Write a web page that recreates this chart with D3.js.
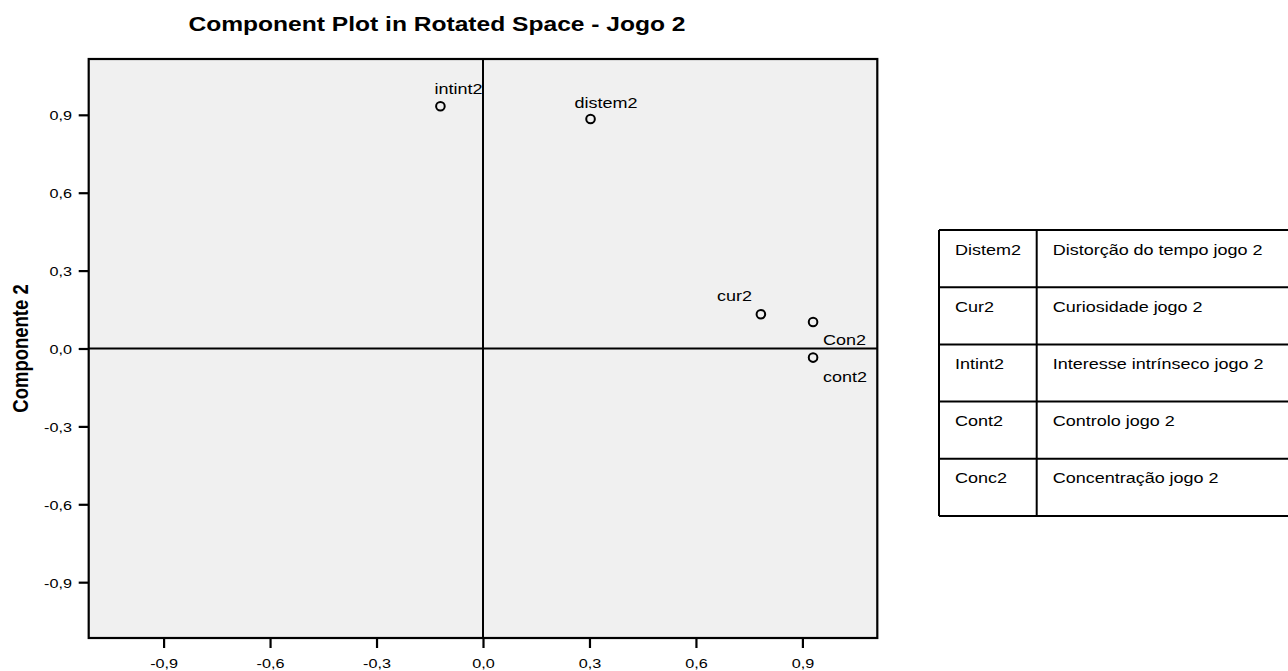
<!DOCTYPE html>
<html>
<head>
<meta charset="utf-8">
<script src="https://cdn.jsdelivr.net/npm/d3@7"></script>
<style>
  html, body { margin: 0; padding: 0; background: #ffffff; }
  svg { display: block; font-family: "Liberation Sans", Arial, Helvetica, sans-serif; }
</style>
</head>
<body>
<svg id="chart" width="1288" height="671"></svg>
<script>
// Component loadings (rotated solution)
const variables = ["intint2", "distem2", "cur2", "Con2", "cont2"];
const component1 = [-0.120, 0.303, 0.783, 0.930, 0.930];
const component2 = [0.933, 0.884, 0.132, 0.102, -0.035];

// Axis ticks
const tickValues = [-0.9, -0.6, -0.3, 0.0, 0.3, 0.6, 0.9];

// Key table
const tableCodes = ["Distem2", "Cur2", "Intint2", "Cont2", "Conc2"];
const tableNames = ["Distorção do tempo jogo 2", "Curiosidade jogo 2", "Interesse intrínseco jogo 2", "Controlo jogo 2", "Concentração jogo 2"];

// Label placement around each marker: [dx, dy, anchor]
const labelPlacement = [[-6, -12, "start"], [-16, -11, "start"], [-9, -13, "end"], [10, 23, "start"], [10, 24, "start"]];

const SX = 1.2; // horizontal glyph stretch used for all text

const svg = d3.select("#chart");
const plot = { left: 88.7, right: 877.3, top: 59, bottom: 638 };

const x = d3.scaleLinear().domain([-1.111, 1.111]).range([plot.left, plot.right]);
const y = d3.scaleLinear().domain([-1.115, 1.115]).range([plot.bottom, plot.top]);

const locale = d3.formatLocale({ decimal: ",", thousands: ".", grouping: [3], currency: ["", "€"], minus: "-" });
const fmt = locale.format(".1f");

function stretchText(sel) {
  sel.each(function () {
    const t = d3.select(this);
    const tx = +t.attr("x") || 0;
    const ty = +t.attr("y") || 0;
    t.attr("x", 0).attr("y", 0)
     .attr("transform", `translate(${tx},${ty}) scale(${SX},1)`);
  });
}

// Plot background
svg.append("rect")
  .attr("x", plot.left).attr("y", plot.top)
  .attr("width", plot.right - plot.left).attr("height", plot.bottom - plot.top)
  .attr("fill", "#f0f0f0");

// Reference lines through the origin
svg.append("line")
  .attr("x1", x(0)).attr("x2", x(0)).attr("y1", plot.top).attr("y2", plot.bottom)
  .attr("stroke", "#000").attr("stroke-width", 2);
svg.append("line")
  .attr("x1", plot.left).attr("x2", plot.right).attr("y1", y(0)).attr("y2", y(0))
  .attr("stroke", "#000").attr("stroke-width", 2);

// Frame
svg.append("rect")
  .attr("x", plot.left).attr("y", plot.top)
  .attr("width", plot.right - plot.left).attr("height", plot.bottom - plot.top)
  .attr("fill", "none").attr("stroke", "#000").attr("stroke-width", 2.2);

// Axes
const xAxis = d3.axisBottom(x).tickValues(tickValues).tickFormat(fmt).tickSize(10).tickPadding(13).tickSizeOuter(0);
const gx = svg.append("g").attr("transform", `translate(0,${plot.bottom})`).call(xAxis);
gx.select(".domain").remove();
gx.selectAll(".tick line").attr("stroke", "#000").attr("stroke-width", 2.2);
gx.selectAll(".tick text").attr("font-size", 13.5).attr("fill", "#000").attr("font-family", null)
  .attr("dy", null).attr("y", 29.5);
stretchText(gx.selectAll(".tick text"));

const yAxis = d3.axisLeft(y).tickValues(tickValues).tickFormat(fmt).tickSize(10).tickPadding(7).tickSizeOuter(0);
const gy = svg.append("g").attr("transform", `translate(${plot.left},0)`).call(yAxis);
gy.select(".domain").remove();
gy.selectAll(".tick line").attr("stroke", "#000").attr("stroke-width", 2.2);
gy.selectAll(".tick text").attr("font-size", 13.5).attr("fill", "#000").attr("font-family", null)
  .attr("dy", null).attr("y", 5).attr("x", -16.7);
stretchText(gy.selectAll(".tick text"));

// Points
const pts = variables.map((v, i) => ({ name: v, c1: component1[i], c2: component2[i], place: labelPlacement[i] }));

svg.append("g").selectAll("circle").data(pts).join("circle")
  .attr("cx", d => x(d.c1)).attr("cy", d => y(d.c2))
  .attr("r", 4.3).attr("fill", "none").attr("stroke", "#000").attr("stroke-width", 2);

svg.append("g").selectAll("text").data(pts).join("text")
  .attr("x", d => x(d.c1) + d.place[0]).attr("y", d => y(d.c2) + d.place[1])
  .attr("text-anchor", d => d.place[2])
  .attr("font-size", 15).attr("fill", "#000")
  .text(d => d.name)
  .call(stretchText);

// Title
svg.append("text")
  .attr("x", 437).attr("y", 30.7).attr("text-anchor", "middle")
  .attr("font-size", 20.5).attr("font-weight", "bold").attr("fill", "#000")
  .text("Component Plot in Rotated Space - Jogo 2")
  .call(stretchText);

// Y axis title
svg.append("text")
  .attr("transform", `translate(28,${(plot.top + plot.bottom) / 2}) scale(${SX},1) rotate(-90)`)
  .attr("text-anchor", "middle")
  .attr("font-size", 18.5).attr("font-weight", "bold").attr("fill", "#000")
  .text("Componente 2");

// Key table
const table = { left: 939, right: 1292, top: 230, rowH: 57.2, split: 1036.7 };
const tg = svg.append("g");
const rowIdx = d3.range(tableCodes.length);
tg.selectAll("line.row").data(d3.range(tableCodes.length + 1)).join("line")
  .attr("x1", table.left).attr("x2", table.right)
  .attr("y1", i => table.top + i * table.rowH).attr("y2", i => table.top + i * table.rowH)
  .attr("stroke", "#000").attr("stroke-width", 2);
[table.left, table.split].forEach(cx => {
  tg.append("line")
    .attr("x1", cx).attr("x2", cx)
    .attr("y1", table.top).attr("y2", table.top + tableCodes.length * table.rowH)
    .attr("stroke", "#000").attr("stroke-width", 2);
});
tg.selectAll("text.code").data(rowIdx).join("text")
  .attr("x", table.left + 16).attr("y", i => table.top + i * table.rowH + 24.5)
  .attr("font-size", 15).attr("fill", "#000")
  .text(i => tableCodes[i])
  .call(stretchText);
tg.selectAll("text.name").data(rowIdx).join("text")
  .attr("x", table.split + 16).attr("y", i => table.top + i * table.rowH + 24.5)
  .attr("font-size", 15).attr("fill", "#000")
  .text(i => tableNames[i])
  .call(stretchText);
</script>
</body>
</html>
